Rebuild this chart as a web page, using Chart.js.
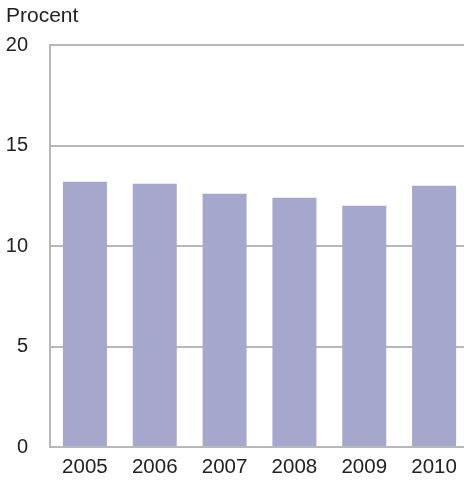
<!DOCTYPE html>
<html>
<head>
<meta charset="utf-8">
<script src="https://cdn.jsdelivr.net/npm/chart.js@4"></script>
<style>
  html, body { margin: 0; padding: 0; background: #fff; overflow: hidden; }
  #wrap { width: 469px; height: 481px; }
</style>
</head>
<body>
<div id="wrap"><canvas id="chart"></canvas></div>
<script>
// data
const years = ['2005', '2006', '2007', '2008', '2009', '2010'];
const shares = [13.2, 13.1, 12.6, 12.4, 12.0, 13.0];
const yTicks = [0, 5, 10, 15, 20];
const unitLabel = 'Procent';

const barColor = '#a5a7cd';
const lineColor = '#b8b8b8';
const textColor = '#222222';
const fontFamily = '"Liberation Sans", Arial, sans-serif';

// draws the unit label above the y axis
const unitLabelPlugin = {
  id: 'unitLabel',
  afterDraw(chart) {
    const c = chart.ctx;
    c.save();
    c.font = '21px ' + fontFamily;
    c.fillStyle = textColor;
    c.textAlign = 'left';
    c.textBaseline = 'alphabetic';
    c.fillText(unitLabel, 6, 22);
    c.restore();
  }
};

new Chart(document.getElementById('chart'), {
  type: 'bar',
  data: {
    labels: years,
    datasets: [{
      data: shares,
      backgroundColor: barColor,
      borderWidth: 0,
      categoryPercentage: 1,
      barPercentage: 0.63
    }]
  },
  options: {
    responsive: true,
    maintainAspectRatio: false,
    animation: false,
    layout: { padding: { top: 45, right: 0, bottom: 0, left: 0 } },
    plugins: {
      legend: { display: false },
      tooltip: { enabled: false }
    },
    scales: {
      x: {
        grid: { display: false, drawTicks: false },
        border: { display: true, color: lineColor, width: 2 },
        ticks: {
          color: textColor,
          font: { family: fontFamily, size: 20.5 },
          padding: 8,
          maxRotation: 0
        },
        afterFit(scale) { scale.height = 33; }
      },
      y: {
        min: 0,
        max: 20,
        afterBuildTicks(scale) { scale.ticks = yTicks.map(v => ({ value: v })); },
        grid: { color: lineColor, lineWidth: 2, drawTicks: false },
        border: { display: true, color: lineColor, width: 2 },
        ticks: {
          color: textColor,
          font: { family: fontFamily, size: 20 },
          padding: 22
        },
        afterFit(scale) { scale.width = 50; }
      }
    }
  },
  plugins: [unitLabelPlugin]
});
</script>
</body>
</html>
